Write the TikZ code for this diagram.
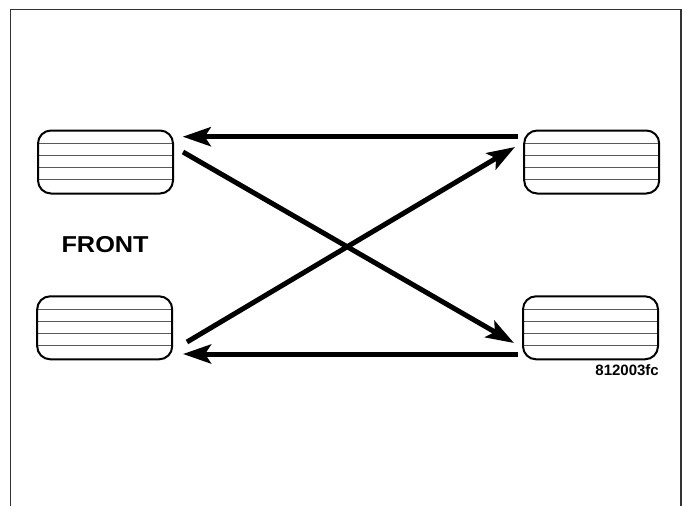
\documentclass[tikz,border=0pt]{standalone}
\usepackage{fontspec}
\setmainfont{Liberation Sans}
\usetikzlibrary{positioning,arrows.meta,calc}
\begin{document}
\begin{tikzpicture}[x=1pt,y=-1pt,tire/.style={draw,line width=2pt,rounded corners=13pt,minimum width=135pt,minimum height=63pt,path picture={\foreach \f in {0.21,0.40,0.585,0.78}\draw[black!65,line width=1pt]($(path picture bounding box.north west)!\f!(path picture bounding box.south west)$)--($(path picture bounding box.north east)!\f!(path picture bounding box.south east)$);}},a/.style={-{Stealth[length=28pt,width=19pt,inset=6pt]},line width=5pt}]
\useasboundingbox(0,0)rectangle(684,506);
\draw[black!80,line width=1.5pt](10.5,506)--(10.5,9.5)--(681,9.5)--(681,506);
\node[tire](tl)at(105.5,162){};
\node[tire](bl)at(104.7,327.8){};
\node[tire](tr)at(591.7,162){};
\node[tire](br)at(590.5,327.8){};
\draw[a,shorten <=5pt,shorten >=8.7pt]([yshift=-7.2pt]tr.north west)--([yshift=-7.2pt]tl.north east);
\draw[a,shorten <=4pt,shorten >=9.8pt]([yshift=6.3pt]br.south west)--([yshift=6.3pt]bl.south east);
\draw[a]([shift={(9pt,-22.5pt)}]tl.north east)--([shift={(-8pt,17.3pt)}]br.south west);
\draw[a]([shift={(13.8pt,18.3pt)}]bl.south east)--([shift={(-8.2pt,-17.5pt)}]tr.north west);
\node[font=\fontsize{23}{23}\selectfont\bfseries](front)at($(tl.south)!0.5!(bl.north)$){\scalebox{1.1}[1]{FRONT}};
\node[font=\fontsize{15}{15}\selectfont\bfseries,inner sep=0pt,below left=4.5pt and 0pt of br.south east](code){812003fc};
\end{tikzpicture}
\end{document}
